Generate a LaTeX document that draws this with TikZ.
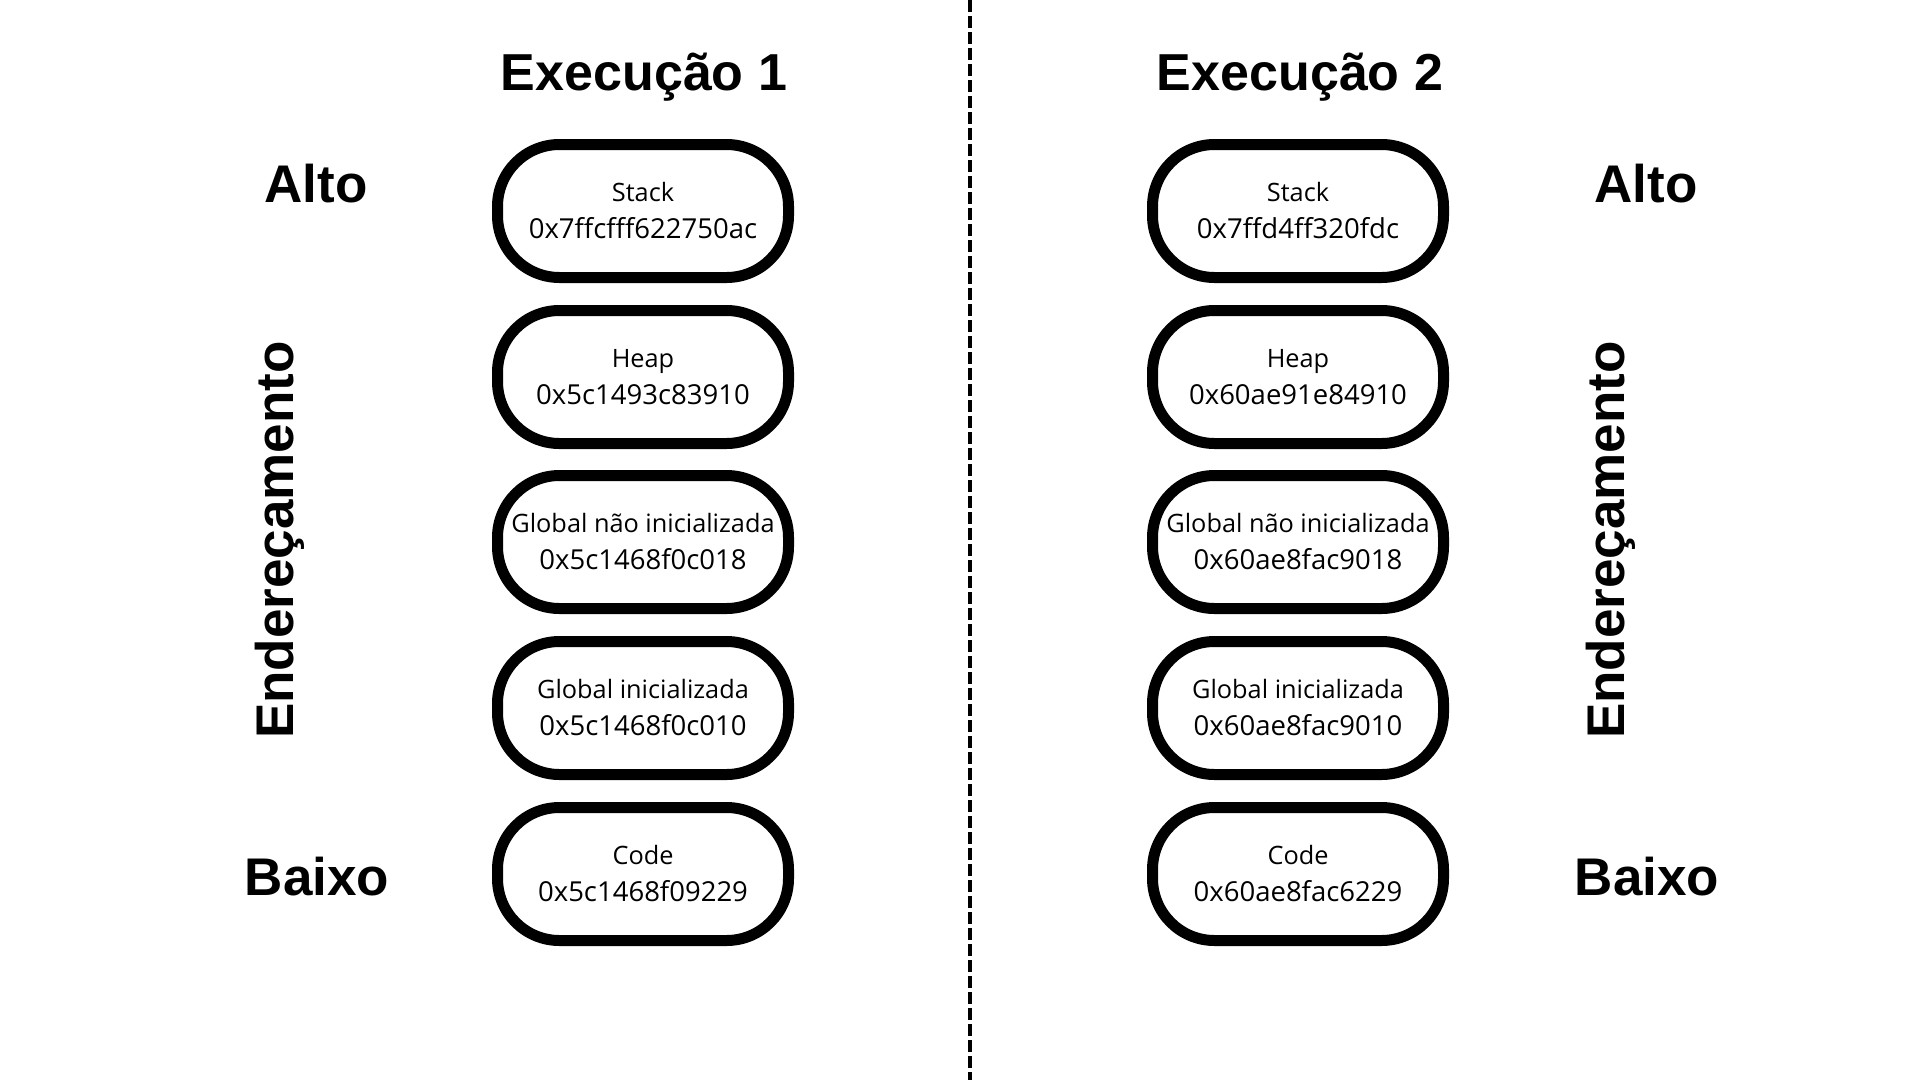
\documentclass[tikz,border=0pt]{standalone}
\usepackage{fontspec}
\setmainfont{Open Sans}
\newfontfamily\headfont{Liberation Sans}
\usepackage{tikz}

\newcommand{\addr}[1]{{\fontsize{27.5}{37}\selectfont #1}}

\begin{document}
\begin{tikzpicture}[x=1pt,y=-1pt,
  seg/.style={draw, line width=11pt, rounded corners=62pt, minimum width=291pt,
    minimum height=133pt, inner sep=0pt, align=center,
    font=\fontsize{25.3}{37}\selectfont},
  head/.style={font=\headfont\bfseries\fontsize{52}{60}\selectfont, anchor=base},
  side/.style={font=\headfont\bfseries\fontsize{53}{60}\selectfont, anchor=base}]
  \useasboundingbox (0,0) rectangle (1920,1080);
  % separator
  \coordinate (top) at (970,0);
  \coordinate (bot) at (970,1080);
  \draw[line width=4pt, dash pattern=on 11.5pt off 4.5pt] (top) -- (bot);

  % execucao 1
  \node[head] (t1) at (644,90) {Execução 1};
  \node[seg] (s1) at (643,211) {Stack\\\addr{0x7ffcfff622750ac}};
  \node[seg] (h1) at (643,377) {Heap\\\addr{0x5c1493c83910}};
  \node[seg] (gn1) at (643,542) {Global não inicializada\\\addr{0x5c1468f0c018}};
  \node[seg] (gi1) at (643,708) {Global inicializada\\\addr{0x5c1468f0c010}};
  \node[seg] (c1) at (643,874) {Code\\\addr{0x5c1468f09229}};
  \node[side] (alto1) at (316,202) {Alto};
  \node[side] (baixo1) at (317,895) {Baixo};
  \node[side, rotate=90] (end1) at (293,540) {Endereçamento};

  % execucao 2
  \node[head] (t2) at (1300,90) {Execução 2};
  \node[seg] (s2) at (1298,211) {Stack\\\addr{0x7ffd4ff320fdc}};
  \node[seg] (h2) at (1298,377) {Heap\\\addr{0x60ae91e84910}};
  \node[seg] (gn2) at (1298,542) {Global não inicializada\\\addr{0x60ae8fac9018}};
  \node[seg] (gi2) at (1298,708) {Global inicializada\\\addr{0x60ae8fac9010}};
  \node[seg] (c2) at (1298,874) {Code\\\addr{0x60ae8fac6229}};
  \node[side] (alto2) at (1646,202) {Alto};
  \node[side] (baixo2) at (1647,895) {Baixo};
  \node[side, rotate=90] (end2) at (1624,540) {Endereçamento};
\end{tikzpicture}
\end{document}
